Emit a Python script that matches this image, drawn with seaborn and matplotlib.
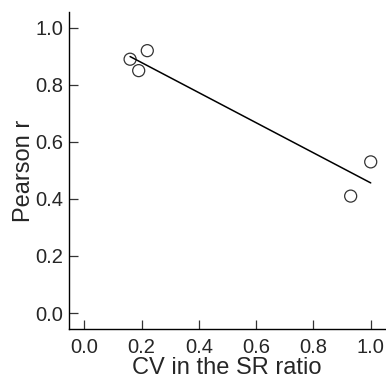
import numpy as np
import pandas as pd
import seaborn as sns
import matplotlib
matplotlib.use("Agg")
import matplotlib.pyplot as plt

# values
cv_sr_ratio = [0.16, 0.19, 0.22, 0.93, 1.00]
pearson_r = [0.89, 0.85, 0.92, 0.41, 0.53]
tick_vals = [0.0, 0.2, 0.4, 0.6, 0.8, 1.0]

df = pd.DataFrame({"cv": cv_sr_ratio, "r": pearson_r})

sns.set_style("ticks")
plt.rcParams["font.family"] = ["Liberation Sans", "DejaVu Sans"]

fig = plt.figure(figsize=(3.86, 3.83), dpi=100)
ax = fig.add_axes([0.1775, 0.141, 0.82, 0.828])

sns.regplot(data=df, x="cv", y="r", ci=None, ax=ax,
            scatter_kws=dict(s=75, facecolors="none", edgecolors="black", linewidths=0.9),
            line_kws=dict(color="black", lw=1.1))

ax.set_xlim(-0.055, 1.05)
ax.set_ylim(-0.056, 1.056)
ax.set_xticks(tick_vals)
ax.set_yticks(tick_vals)
ax.set_xticklabels([f"{v:.1f}" for v in tick_vals])
ax.set_yticklabels([f"{v:.1f}" for v in tick_vals])
ax.tick_params(direction="in", length=6.5, width=0.9, labelsize=14.5, color="#333333")
ax.tick_params(axis="x", pad=6.5)
ax.tick_params(axis="y", pad=4)
ax.set_xlabel("CV in the SR ratio", fontsize=17, labelpad=0)
ax.set_ylabel("Pearson r", fontsize=17, labelpad=0)
sns.despine(ax=ax)
for s in ["left", "bottom"]:
    ax.spines[s].set_linewidth(1.0)
    ax.spines[s].set_color("black")

fig.savefig("out.png", dpi=100)
